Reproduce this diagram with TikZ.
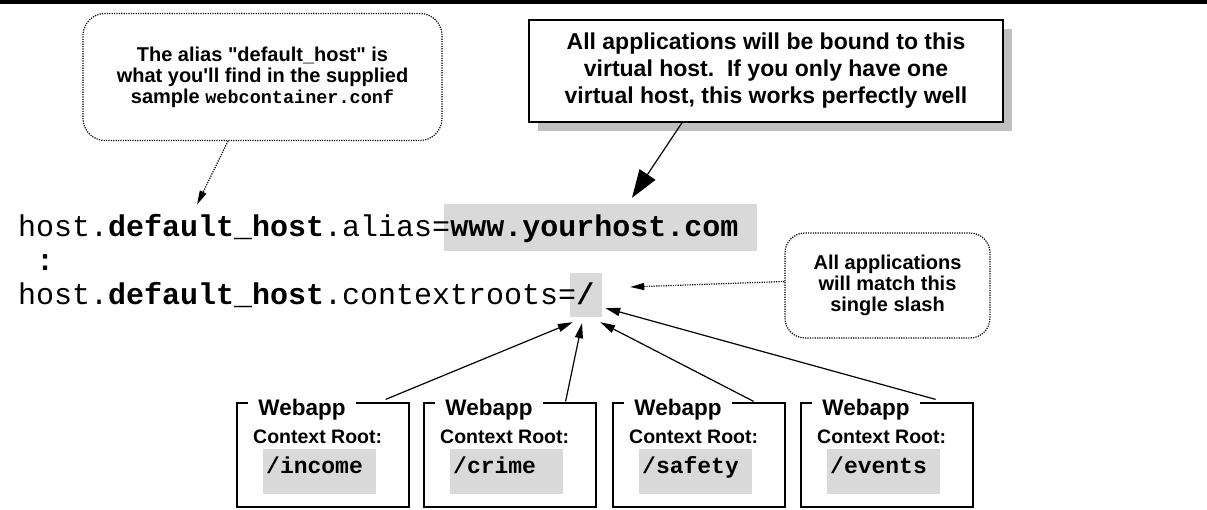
\documentclass[tikz,border=0pt]{standalone}
\usepackage{fontspec}
\setmainfont{Liberation Sans}
\setmonofont{Liberation Mono}
\newfontfamily\qfont{Liberation Sans}
\usetikzlibrary{arrows.meta,calc,shadows}
\definecolor{hl}{HTML}{D9D9D9}
\definecolor{shade}{HTML}{BFBFBF}
\tikzset{
  cloudbox/.style={draw, line width=1.2pt, dash pattern=on 1.2pt off 1.2pt, rounded corners=22pt,
    align=center, inner sep=0pt, font=\fontsize{20}{21}\selectfont\bfseries},
  notebox/.style={draw, line width=1.5pt, fill=white, align=center, inner sep=0pt,
    drop shadow={shadow xshift=9pt, shadow yshift=-9pt, fill=shade, opacity=1},
    font=\fontsize{23}{27}\selectfont\bfseries},
  dotarrow/.style={line width=1.2pt, dash pattern=on 1.2pt off 1.2pt, -{Triangle[length=14pt,width=7pt]}},
  bigarrow/.style={line width=1.2pt, -{Triangle[length=28pt,width=19pt]}},
  apparrow/.style={line width=1.2pt, -{Triangle[length=15pt,width=8pt]}},
  hlbox/.style={fill=hl, inner sep=0pt},
  codeline/.style={anchor=base west, inner sep=0pt, font=\fontsize{30}{30}\selectfont\ttfamily},
  appbox/.style={draw, line width=1.2pt, minimum width=172pt, minimum height=104pt, inner sep=0pt},
  apptitle/.style={anchor=base, fill=white, inner xsep=10pt, inner ysep=0pt, font=\fontsize{22.5}{22.5}\selectfont\bfseries},
  ctxlabel/.style={anchor=base west, inner sep=0pt, font=\fontsize{19.5}{19.5}\selectfont\bfseries},
  ctxcode/.style={anchor=base west, inner sep=0pt, font=\fontsize{23}{23}\selectfont\ttfamily\bfseries},
}
\begin{document}
\begin{tikzpicture}[x=1pt,y=-1pt]
\useasboundingbox (0,0) rectangle (1207,510);
\draw[line width=3.5pt] (0,2) -- (1207,2);

% highlight boxes
\node[hlbox, minimum width=313pt, minimum height=47pt] (www) at (600.5,227.5) {};
\node[hlbox, minimum width=32pt, minimum height=44pt] (slash) at (586,295) {};

% code lines
\node[codeline] (line1) at (18,237) {host.\textbf{default\_host}.alias=\textbf{www.yourhost.com}};
\node[codeline] (dots) at (36,271) {\textbf{:}};
\node[codeline] (line2) at (18,305) {host.\textbf{default\_host}.contextroots=\textbf{/}};

% callouts
\node[cloudbox, minimum width=359pt, minimum height=127pt] (lc) at (262.5,77)
  {The alias {\qfont"}default\_host{\qfont"} is\\what you{\qfont'}ll find in the supplied\\sample {\fontsize{18.5}{21}\selectfont\ttfamily webcontainer.conf}};
\node[notebox, minimum width=474pt, minimum height=102pt] (rc) at (766,71)
  {All applications will be bound to this\\virtual host.\ \ If you only have one\\virtual host, this works perfectly well};
\node[cloudbox, minimum width=205pt, minimum height=105pt, rounded corners=20pt] (sc) at (887.5,285.5)
  {All applications\\will match this\\single slash};

\draw[dotarrow] ($(lc.south)+(-34.5,0)$) -- ($(line1.north west)+(179,-10)$);
\draw[bigarrow] ($(rc.south)+(-84,0)$) -- ($(www.north)+(31.5,-6)$);
\draw[dotarrow] ($(sc.west)+(0,-4)$) -- ($(slash.east)+(28,-8)$);

% webapps
\foreach \n/\lx/\code in {1/237/income, 2/424/crime, 3/613/safety, 4/801/events}{
  \node[appbox] (w\n) at (\lx+86,455) {};
  \node[apptitle] (t\n) at (\lx+65,415) {Webapp};
  \node[ctxlabel] (c\n) at (\lx+16,443) {Context Root:};
  \node[hlbox, minimum width=113pt, minimum height=45pt] (g\n) at (\lx+82.5,471.5) {};
  \node[ctxcode] (k\n) at (\lx+29,473) {/\code};
}

\draw[apparrow] ($(w1.north east)+(-24,-3)$) -- ($(slash.south west)+(3,5)$);
\draw[apparrow] ($(w2.north east)+(-31,-1)$) -- ($(slash.south)+(-4,6)$);
\draw[apparrow] ($(w3.north east)+(-32,-1)$) -- ($(slash.south east)+(-2,5)$);
\draw[apparrow] ($(w4.north east)+(-38,-3)$) -- ($(slash.east)+(3,13)$);
\end{tikzpicture}
\end{document}
